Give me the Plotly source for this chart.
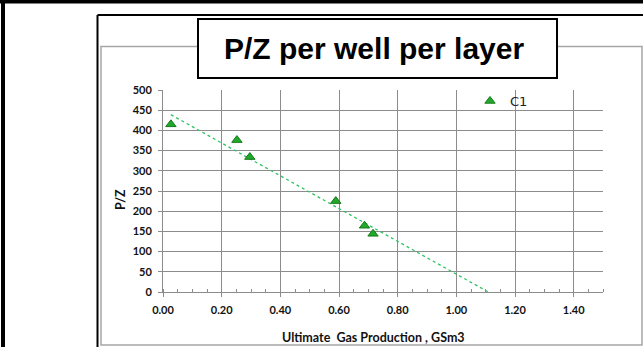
import numpy as np
import plotly.graph_objects as go

# ---- data ----
series_name = "C1"
gas_production = [0.027, 0.252, 0.296, 0.589, 0.687, 0.716]   # GSm3
pz_values = [415, 376, 334, 225, 164, 144]
x_tick_vals = [0.0, 0.2, 0.4, 0.6, 0.8, 1.0, 1.2, 1.4]
y_tick_vals = [0, 50, 100, 150, 200, 250, 300, 350, 400, 450, 500]
title_text = "P/Z per well per layer"
x_title = "Ultimate  Gas Production , GSm3"
y_title = "P/Z"

# linear trend line, extended to P/Z = 0
slope, intercept = np.polyfit(gas_production, pz_values, 1)
x_end = -intercept / slope
trend_x = [min(gas_production), x_end]
trend_y = [slope * v + intercept for v in trend_x]

W, H = 643, 347
L, R, T, B = 163, 40, 90, 55
PW, PH = W - L - R, H - T - B


def px(x):
    return (x - L) / PW


def py(y):
    return (H - B - y) / PH


fig = go.Figure()
fig.add_trace(go.Scatter(
    x=trend_x, y=trend_y, mode="lines",
    line=dict(color="#2fc463", width=1.3, dash="dot"),
    showlegend=False, hoverinfo="skip"))
fig.add_trace(go.Scatter(
    x=gas_production, y=pz_values, mode="markers", name=series_name,
    marker=dict(symbol="triangle-up", size=9, color="#22a82a",
                line=dict(color="#157a1b", width=1))))

shapes = []
# outer black frame (top & left)
shapes.append(dict(type="rect", xref="paper", yref="paper",
                   x0=px(0), x1=px(W), y0=py(0), y1=py(3.5),
                   fillcolor="black", line=dict(width=0), layer="above"))
shapes.append(dict(type="rect", xref="paper", yref="paper",
                   x0=px(1), x1=px(5), y0=py(0), y1=py(H),
                   fillcolor="black", line=dict(width=0), layer="above"))
# inner black frame (top & left)
shapes.append(dict(type="line", xref="paper", yref="paper",
                   x0=px(97.5), x1=px(W), y0=py(15), y1=py(15),
                   line=dict(color="black", width=2)))
shapes.append(dict(type="line", xref="paper", yref="paper",
                   x0=px(97.5), x1=px(97.5), y0=py(15), y1=py(H),
                   line=dict(color="black", width=2)))
# grey chart-area frame
shapes.append(dict(type="rect", xref="paper", yref="paper",
                   x0=px(101), x1=px(642), y0=py(46.5), y1=py(345),
                   line=dict(color="#a6a6a6", width=1.5)))
# title box
shapes.append(dict(type="rect", xref="paper", yref="paper",
                   x0=px(198), x1=px(557), y0=py(19), y1=py(78),
                   fillcolor="white", line=dict(color="black", width=2), layer="above"))

annotations = [
    dict(text=title_text, xref="paper", yref="paper", x=px(374), y=py(48),
         xanchor="center", yanchor="middle", showarrow=False,
         font=dict(family="Liberation Sans, Arial", size=30, color="black", weight="bold")),
    dict(text=x_title, xref="paper", yref="paper", x=px(373), y=py(337),
         xanchor="center", yanchor="middle", showarrow=False,
         font=dict(family="Lato", size=12.5, color="#111", weight="bold")),
    dict(text=y_title, xref="paper", yref="paper", x=px(120), y=py(200),
         xanchor="center", yanchor="middle", showarrow=False, textangle=-90,
         font=dict(family="Lato", size=12.5, color="#111", weight="bold")),
]

fig.update_layout(
    width=W, height=H,
    margin=dict(l=L, r=R, t=T, b=B),
    paper_bgcolor="white", plot_bgcolor="white",
    shapes=shapes, annotations=annotations,
    showlegend=True,
    legend=dict(x=px(470), y=py(86), xanchor="left", yanchor="top",
                bgcolor="rgba(0,0,0,0)", borderwidth=0, itemwidth=30,
                font=dict(family="DejaVu Sans", size=13, color="#222")),
    xaxis=dict(range=[0, 1.5], tickvals=x_tick_vals, tickformat=".2f",
               showgrid=True, gridcolor="#8c8c8c", gridwidth=1,
               showline=True, linecolor="#8c8c8c", linewidth=1,
               ticks="outside", ticklen=4, tickcolor="#8c8c8c",
               ticklabelstandoff=4,
               minor=dict(dtick=0.05, ticks="inside", ticklen=3, tickcolor="#8c8c8c", showgrid=False),
               zeroline=False,
               tickfont=dict(family="Lato", size=11, color="#111", weight="bold")),
    yaxis=dict(range=[0, 500], tickvals=y_tick_vals,
               showgrid=True, gridcolor="#8c8c8c", gridwidth=1,
               showline=True, linecolor="#8c8c8c", linewidth=1,
               ticks="outside", ticklen=4, tickcolor="#8c8c8c",
               ticklabelstandoff=4,
               zeroline=False,
               tickfont=dict(family="Lato", size=11, color="#111", weight="bold")),
)

fig.write_html("out.html")
